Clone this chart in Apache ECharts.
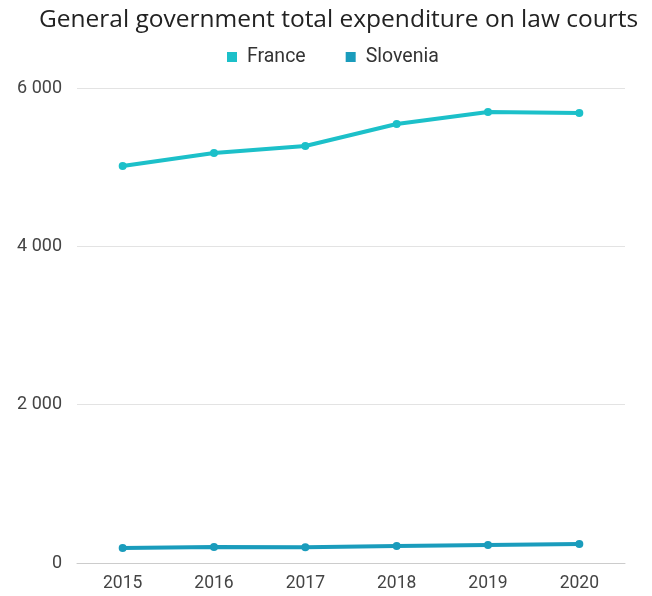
<!DOCTYPE html>
<html lang="en">
	<head>
		<meta charset="UTF-8">
		<title>General government total expenditure on law courts</title>
		<style type="text/css">
			html,
			body,
			.canvas {
				padding: 0;
				margin: 0;
				background-color: #fff;
				width: 652px;
				height: 596px;
			}
		</style>
	</head>
	<body>
		<div class="canvas" id="chart"></div>
		<script type="text/javascript" src="https://cdn.jsdelivr.net/npm/echarts@6/dist/echarts.min.js"></script>
		<script>
			const years = ['2015', '2016', '2017', '2018', '2019', '2020'];
			const france = [5015, 5180, 5268, 5545, 5697, 5685];
			const slovenia = [190, 202, 200, 215, 228, 240];
			const yTicks = [0, 2000, 4000, 6000];

			const chart = echarts.init(document.getElementById('chart'));
			chart.setOption({
				animation: false,
				color: ['#1cc0c9', '#1a9cbc'],
				title: {
					text: 'General government total expenditure on law courts',
					left: 34,
					top: 3,
					textStyle: { fontFamily: 'Open Sans', fontSize: 24.5, fontWeight: 'normal', color: '#222' }
				},
				legend: {
					top: 42,
					left: 222,
					icon: 'rect',
					itemWidth: 10,
					itemHeight: 10,
					itemGap: 40,
					textStyle: { fontFamily: 'Roboto', fontSize: 19.5, color: '#333', padding: [0, 0, 0, 5] }
				},
				grid: { left: 77, right: 27, top: 88, bottom: 33 },
				xAxis: {
					type: 'category',
					data: years,
					axisTick: { show: false },
					axisLine: { lineStyle: { color: '#ccc' } },
					axisLabel: { fontFamily: 'Roboto', fontSize: 17.5, color: '#444', margin: 12 }
				},
				yAxis: {
					type: 'value',
					min: yTicks[0],
					max: yTicks[yTicks.length - 1],
					interval: 2000,
					splitLine: { lineStyle: { color: '#e3e3e3' } },
					axisLabel: {
						fontFamily: 'Roboto', fontSize: 18, color: '#444', margin: 15,
						formatter: v => String(v).replace(/\B(?=(\d{3})+(?!\d))/g, ' ')
					}
				},
				series: [
					{
						name: 'France', type: 'line', data: france,
						symbol: 'circle', symbolSize: 8,
						lineStyle: { width: 4 }
					},
					{
						name: 'Slovenia', type: 'line', data: slovenia,
						symbol: 'circle', symbolSize: 8,
						lineStyle: { width: 4 }
					}
				]
			});
		</script>
	</body>
</html>
